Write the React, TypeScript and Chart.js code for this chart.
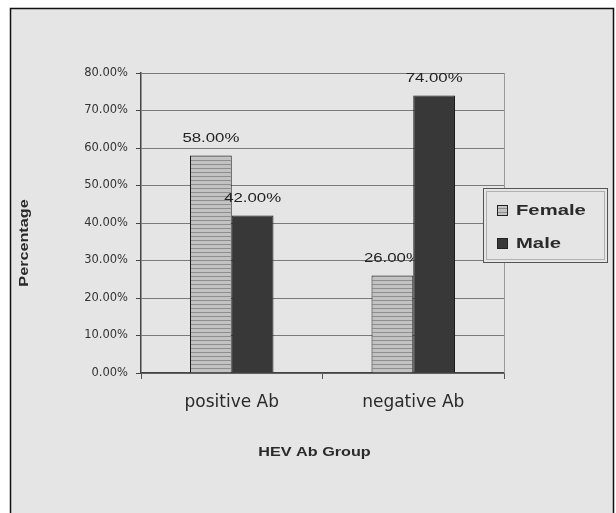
import React, { useEffect, useRef } from "react";
import { Chart, registerables } from "chart.js";

Chart.register(...registerables);

const categories = ["positive Ab", "negative Ab"];
const femaleValues = [58, 26];
const maleValues = [42, 74];
const seriesNames = ["Female", "Male"];
const yTicks = [0, 10, 20, 30, 40, 50, 60, 70, 80];
const xTitle = "HEV Ab Group";
const yTitle = "Percentage";

const FONT = "'Liberation Sans', Arial, sans-serif";
const WIDE = "'DejaVu Sans', 'Liberation Sans', sans-serif";
const PAGE_BG = "#e5e5e5";

function makeStripePattern(): CanvasPattern | string {
  const c = document.createElement("canvas");
  c.width = 4;
  c.height = 4;
  const g = c.getContext("2d");
  if (!g) return "#b8b8b8";
  g.fillStyle = "#c2c2c2";
  g.fillRect(0, 0, 4, 4);
  g.fillStyle = "#8e8e8e";
  g.fillRect(0, 0, 4, 1);
  return g.createPattern(c, "repeat") || "#b8b8b8";
}

const fmt = (v: number) => v.toFixed(2) + "%";

// text drawn with a horizontal stretch, anchored at x according to textAlign
function stretchedText(ctx: CanvasRenderingContext2D, text: string, x: number, y: number, sx: number) {
  ctx.save();
  ctx.translate(x, y);
  ctx.scale(sx, 1);
  ctx.fillText(text, 0, 0);
  ctx.restore();
}

export default function App() {
  const ref = useRef<HTMLCanvasElement>(null);

  useEffect(() => {
    if (!ref.current) return;
    const stripe = makeStripePattern();

    const framePlugin = {
      id: "frame",
      beforeDraw(chart: any) {
        const { ctx, width, height } = chart;
        ctx.save();
        ctx.fillStyle = "#ffffff";
        ctx.fillRect(0, 0, width, height);
        ctx.fillStyle = PAGE_BG;
        ctx.fillRect(10, 8, 604, height);
        ctx.strokeStyle = "#111";
        ctx.lineWidth = 1.5;
        ctx.beginPath();
        ctx.moveTo(10.5, height + 2);
        ctx.lineTo(10.5, 8.5);
        ctx.lineTo(613.5, 8.5);
        ctx.lineTo(613.5, height + 2);
        ctx.stroke();
        ctx.restore();
      },
      afterDatasetsDraw(chart: any) {
        const { ctx, width, height } = chart;
        const femaleMeta = chart.getDatasetMeta(0);
        const maleMeta = chart.getDatasetMeta(1);
        ctx.save();
        ctx.font = `12px ${FONT}`;
        ctx.fillStyle = "#222";
        ctx.textAlign = "center";
        ctx.textBaseline = "middle";
        // Female labels sit behind the male bars
        ctx.save();
        ctx.beginPath();
        ctx.rect(0, 0, width, height);
        maleMeta.data.forEach((bar: any) => {
          const p = bar.getProps(["x", "y", "base", "width"], true);
          ctx.rect(p.x - p.width / 2, p.y, p.width, p.base - p.y);
        });
        ctx.clip("evenodd");
        femaleMeta.data.forEach((bar: any, i: number) => {
          stretchedText(ctx, fmt(femaleValues[i]), bar.x, bar.y - 17, 1.4);
        });
        ctx.restore();
        maleMeta.data.forEach((bar: any, i: number) => {
          stretchedText(ctx, fmt(maleValues[i]), bar.x, bar.y - 17, 1.4);
        });
        ctx.restore();
      },
      afterDraw(chart: any) {
        const { ctx, chartArea: a } = chart;
        ctx.save();
        // plot-area right edge
        ctx.strokeStyle = "#9a9a9a";
        ctx.lineWidth = 1;
        ctx.beginPath();
        ctx.moveTo(Math.round(a.right) + 0.5, a.top);
        ctx.lineTo(Math.round(a.right) + 0.5, a.bottom);
        ctx.stroke();

        // axis titles
        ctx.fillStyle = "#2a2a2a";
        ctx.textAlign = "center";
        ctx.textBaseline = "middle";
        ctx.font = `bold 12px ${FONT}`;
        stretchedText(ctx, xTitle, (a.left + a.right) / 2 - 8, 453, 1.35);
        ctx.save();
        ctx.translate(25, 243);
        ctx.rotate(-Math.PI / 2);
        ctx.scale(1.35, 1);
        ctx.fillText(yTitle, 0, 0);
        ctx.restore();

        // legend box
        const lx = 483, ly = 188, lw = 124, lh = 74;
        ctx.fillStyle = PAGE_BG;
        ctx.fillRect(lx, ly, lw, lh);
        ctx.strokeStyle = "#555";
        ctx.lineWidth = 1;
        ctx.strokeRect(lx + 0.5, ly + 0.5, lw, lh);
        ctx.strokeStyle = "#b0b0b0";
        ctx.strokeRect(lx + 3.5, ly + 3.5, lw - 6, lh - 6);
        const fills = [stripe, "#383838"];
        const rows = [210, 243];
        ctx.font = `bold 15px ${FONT}`;
        ctx.textBaseline = "middle";
        ctx.textAlign = "left";
        seriesNames.forEach((name, i) => {
          ctx.fillStyle = fills[i] as any;
          ctx.fillRect(497, rows[i] - 5, 11, 11);
          ctx.strokeStyle = "#222";
          ctx.strokeRect(497.5, rows[i] - 4.5, 10, 10);
          ctx.fillStyle = "#2a2a2a";
          stretchedText(ctx, name, 516, rows[i] + 1, 1.35);
        });
        ctx.restore();
      },
    };

    const chart = new Chart(ref.current, {
      type: "bar",
      data: {
        labels: categories,
        datasets: [
          {
            label: seriesNames[0],
            data: femaleValues,
            backgroundColor: stripe as any,
            borderColor: "#1a1a1a",
            borderWidth: 1,
          },
          {
            label: seriesNames[1],
            data: maleValues,
            backgroundColor: "#383838",
            borderColor: "#1a1a1a",
            borderWidth: 1,
          },
        ],
      },
      options: {
        responsive: false,
        animation: false,
        events: [],
        layout: { padding: { left: 0, top: 73, right: 112, bottom: 0 } },
        datasets: {
          bar: { categoryPercentage: 0.46, barPercentage: 1.0 },
        },
        plugins: {
          legend: { display: false },
          tooltip: { enabled: false },
          title: { display: false },
        },
        scales: {
          x: {
            afterFit(scale: any) {
              scale.height = 140;
            },
            grid: {
              display: true,
              drawOnChartArea: false,
              offset: true,
              tickLength: 6,
              tickColor: "#555",
            },
            border: { display: true, color: "#444", width: 1.5 },
            ticks: {
              padding: 13,
              color: "#2a2a2a",
              font: { family: WIDE, size: 17 },
            },
          },
          y: {
            min: 0,
            max: 80,
            afterFit(scale: any) {
              scale.width = 141;
            },
            afterBuildTicks(scale: any) {
              scale.ticks = yTicks.map((v) => ({ value: v }));
            },
            grid: {
              color: "#7a7a7a",
              lineWidth: 1,
              tickLength: 5,
              tickColor: "#444",
            },
            border: { display: true, color: "#444", width: 1.5 },
            ticks: {
              padding: 8,
              color: "#333",
              font: { family: WIDE, size: 11.5 },
              callback: (v: any) => fmt(Number(v)),
            },
          },
        },
      },
      plugins: [framePlugin],
    });

    return () => chart.destroy();
  }, []);

  return (
    <div style={{ position: "absolute", left: 0, top: 0, width: 616, height: 513 }}>
      <canvas ref={ref} width={616} height={513} style={{ display: "block" }} />
    </div>
  );
}
